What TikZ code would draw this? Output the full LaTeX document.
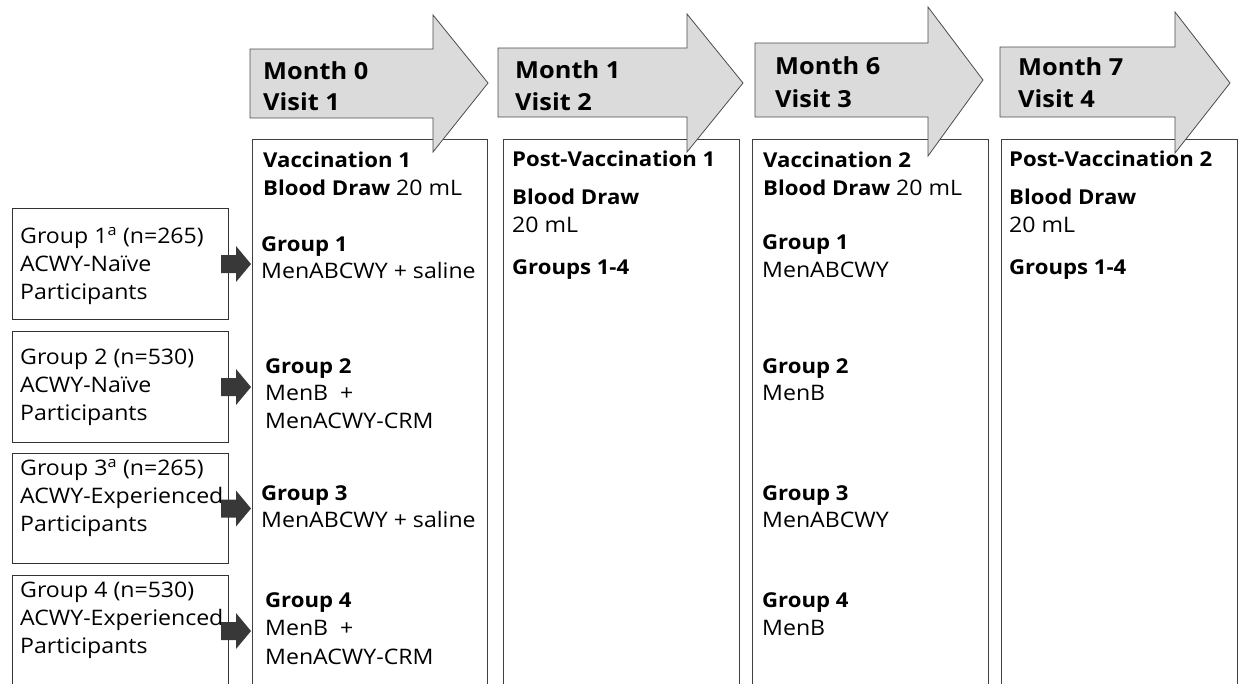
\documentclass[tikz,border=0pt]{standalone}
\usepackage{fontspec}
\setmainfont{Open Sans}[FakeStretch=1.08]
\usetikzlibrary{calc}
\begin{document}
\begin{tikzpicture}[x=1pt,y=-1pt,
  colbox/.style={draw=black!75, line width=1pt, fill=white, anchor=north west, minimum width=236pt, minimum height=570pt, inner sep=0pt},
  grpbox/.style={draw=black!80, line width=1pt, fill=white, anchor=north west, minimum width=216pt, minimum height=111pt, inner sep=0pt},
  timearrow/.style={draw=black!70, line width=0.8pt, fill=black!14, line join=miter},
  smallarrow/.style={fill=black!78, draw=none},
  txt/.style={anchor=base west, inner sep=0pt, text=black, font=\fontsize{21.4}{28}\selectfont},
  btxt/.style={anchor=base west, inner sep=0pt, text=black, font=\fontsize{20.5}{28}\selectfont\bfseries},
  mon/.style={anchor=base west, inner sep=0pt, text=black, font=\fontsize{23.5}{30}\selectfont\bfseries}]
\useasboundingbox (0,0) rectangle (1238,683);
\clip (0,0) rectangle (1238,683);

% column boxes
\node[colbox, minimum width=235pt] (c1) at (252,139) {};
\node[colbox] (c2) at (503,139) {};
\node[colbox] (c3) at (752,139) {};
\node[colbox] (c4) at (1001,139) {};

% timeline arrows
\draw[timearrow] (250,49) -- (433,49) -- (433,15) -- (488,83) -- (433,152) -- (433,118) -- (250,118) -- cycle;
\draw[timearrow] (498,48) -- (687,48) -- (687,14) -- (743,83) -- (687,152) -- (687,117) -- (498,117) -- cycle;
\draw[timearrow] (755,43) -- (928,43) -- (928,7) -- (983,80) -- (928,156) -- (928,117) -- (755,117) -- cycle;
\draw[timearrow] (1000,47) -- (1175,47) -- (1175,12) -- (1230,83) -- (1175,153) -- (1175,117) -- (1000,117) -- cycle;

\node[mon] (m0) at (263,79) {Month 0};
\node[mon] (v1) at (263,110) {Visit 1};
\node[mon] (m1) at (515,78) {Month 1};
\node[mon] (v2) at (515,110) {Visit 2};
\node[mon] (m6) at (775,74) {Month 6};
\node[mon] (v3) at (775,107) {Visit 3};
\node[mon] (m7) at (1018,75) {Month 7};
\node[mon] (v4) at (1018,107) {Visit 4};

% group boxes
\node[grpbox] (g1) at (12,208) {};
\node[grpbox] (g2) at (12,331) {};
\node[grpbox, minimum height=110pt] (g3) at (12,453) {};
\node[grpbox] (g4) at (12,575) {};

\node[txt] (g1a) at (20,243) {Group 1\textsuperscript{a} (n=265)};
\node[txt] (g1b) at (20,271) {ACWY-Naïve};
\node[txt] (g1c) at (20,299) {Participants};
\node[txt] (g2a) at (20,364) {Group 2 (n=530)};
\node[txt] (g2b) at (20,392) {ACWY-Naïve};
\node[txt] (g2c) at (20,420) {Participants};
\node[txt] (g3a) at (20,475) {Group 3\textsuperscript{a} (n=265)};
\node[txt] (g3b) at (20,503) {ACWY-Experienced};
\node[txt] (g3c) at (20,531) {Participants};
\node[txt] (g4a) at (20,597) {Group 4 (n=530)};
\node[txt] (g4b) at (20,625) {ACWY-Experienced};
\node[txt] (g4c) at (20,653) {Participants};

% small arrows
\foreach \g in {g1,g2,g3,g4}{
  \fill[smallarrow, shift={(\g.east)}] (-8,-9) -- (7,-9) -- (7,-18) -- (22,0) -- (7,18) -- (7,9) -- (-8,9) -- cycle;
}

% column 1
\node[btxt] (c1a) at (263,167) {Vaccination 1};
\node[txt] (c1b) at (263,195) {\fontsize{20.5}{28}\selectfont\textbf{Blood Draw} \fontsize{21.4}{28}\selectfont 20 mL};
\node[btxt] (c1g1) at (261,251) {Group 1};
\node[txt] (c1g1v) at (261,278) {MenABCWY + saline};
\node[btxt] (c1g2) at (265,373) {Group 2};
\node[txt] (c1g2v) at (265,400) {MenB\ \ +};
\node[txt] (c1g2w) at (265,428) {MenACWY-CRM};
\node[btxt] (c1g3) at (261,500) {Group 3};
\node[txt] (c1g3v) at (261,527) {MenABCWY + saline};
\node[btxt] (c1g4) at (265,607) {Group 4};
\node[txt] (c1g4v) at (265,635) {MenB\ \ +};
\node[txt] (c1g4w) at (265,664) {MenACWY-CRM};

% column 2
\node[btxt] (c2a) at (512,166) {Post-Vaccination 1};
\node[btxt] (c2b) at (512,204) {Blood Draw};
\node[txt] (c2c) at (512,232) {20 mL};
\node[btxt] (c2d) at (512,274) {Groups 1-4};

% column 3
\node[btxt] (c3a) at (763,167) {Vaccination 2};
\node[txt] (c3b) at (763,195) {\fontsize{20.5}{28}\selectfont\textbf{Blood Draw} \fontsize{21.4}{28}\selectfont 20 mL};
\node[btxt] (c3g1) at (762,249) {Group 1};
\node[txt] (c3g1v) at (762,277) {MenABCWY};
\node[btxt] (c3g2) at (762,373) {Group 2};
\node[txt] (c3g2v) at (762,400) {MenB};
\node[btxt] (c3g3) at (762,500) {Group 3};
\node[txt] (c3g3v) at (762,527) {MenABCWY};
\node[btxt] (c3g4) at (762,607) {Group 4};
\node[txt] (c3g4v) at (762,635) {MenB};

% column 4
\node[btxt] (c4a) at (1009,166) {Post-Vaccination 2};
\node[btxt] (c4b) at (1009,204) {Blood Draw};
\node[txt] (c4c) at (1009,232) {20 mL};
\node[btxt] (c4d) at (1009,274) {Groups 1-4};
\end{tikzpicture}
\end{document}
